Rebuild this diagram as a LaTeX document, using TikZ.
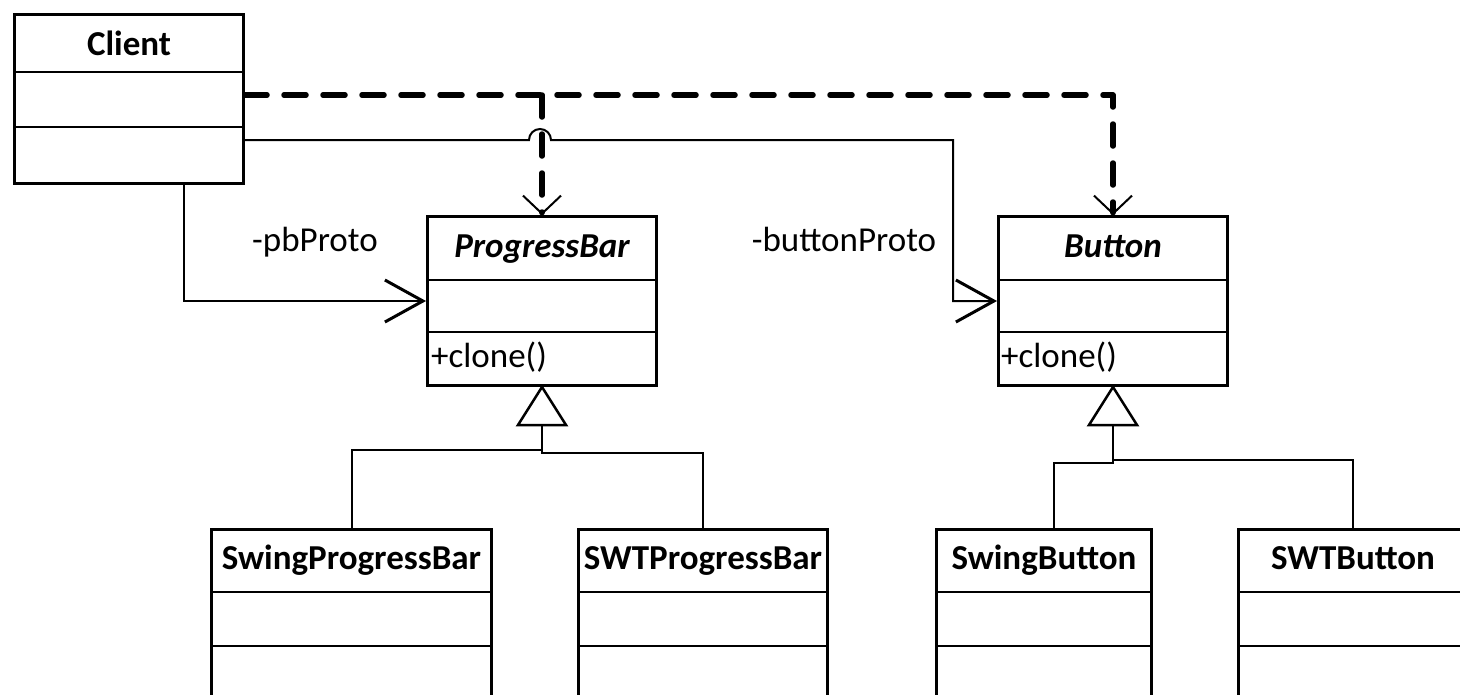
\documentclass[tikz,border=0pt]{standalone}
\usepackage{fontspec}
\setmainfont{Carlito}
\usetikzlibrary{calc,arrows.meta}
\begin{document}
\begin{tikzpicture}[x=1pt,y=-1pt,
  every node/.style={font=\fontsize{35}{42}\selectfont},
  classbox/.style={draw,line width=3pt,inner sep=0pt,anchor=north west},
  divider/.style={line width=2.5pt},
  assoc/.style={line width=2pt,-{Straight Barb[length=38pt,width=42pt,line width=3pt]}},
  depend/.style={line width=5.5pt,line cap=round,line join=round,dash pattern=on 22pt off 17pt},
  deptip/.style={-{Straight Barb[length=18pt,width=38pt,line width=2pt]}},
  inherit/.style={line width=2pt},
  gentri/.style={line width=2.5pt,fill=white,line join=miter},
  title/.style={anchor=base,inner sep=0pt,font=\fontsize{35}{42}\selectfont\bfseries},
  abstitle/.style={anchor=base,inner sep=0pt,font=\fontsize{35}{42}\selectfont\bfseries\itshape},
  member/.style={anchor=base west,inner sep=0pt},
  rolename/.style={anchor=base,inner sep=0pt}]

% canvas
\path[use as bounding box,clip] (0,0) rectangle (1460,694);
\fill[white] (0,0) rectangle (1460,694);

% ---- classes ----
\node[classbox,minimum width=229pt,minimum height=169pt] (Client) at (13,13) {};
\draw[divider] ([yshift=-59pt]Client.north west) -- ([yshift=-59pt]Client.north east);
\draw[divider] ([yshift=-114pt]Client.north west) -- ([yshift=-114pt]Client.north east);
\node[title] (ClientName) at (Client.north |- 0,55) {Client};

\node[classbox,minimum width=229pt,minimum height=169pt] (PB) at (426,215) {};
\draw[divider] ([yshift=-65pt]PB.north west) -- ([yshift=-65pt]PB.north east);
\draw[divider] ([yshift=-117pt]PB.north west) -- ([yshift=-117pt]PB.north east);
\node[abstitle] (PBName) at (PB.north |- 0,257) {ProgressBar};
\node[member] (PBop) at (431,367) {+clone()};

\node[classbox,minimum width=229pt,minimum height=169pt] (Button) at (997,215) {};
\draw[divider] ([yshift=-65pt]Button.north west) -- ([yshift=-65pt]Button.north east);
\draw[divider] ([yshift=-117pt]Button.north west) -- ([yshift=-117pt]Button.north east);
\node[abstitle] (ButtonName) at (Button.north |- 0,257) {Button};
\node[member] (Buttonop) at (1001,367) {+clone()};

\node[classbox,minimum width=280pt,minimum height=200pt] (SwingPB) at (210,528) {};
\draw[divider] ([yshift=-64pt]SwingPB.north west) -- ([yshift=-64pt]SwingPB.north east);
\draw[divider] ([yshift=-118pt]SwingPB.north west) -- ([yshift=-118pt]SwingPB.north east);
\node[title] (SwingPBName) at (SwingPB.north |- 0,569) {SwingProgressBar};

\node[classbox,minimum width=249pt,minimum height=200pt] (SWTPB) at (577,528) {};
\draw[divider] ([yshift=-64pt]SWTPB.north west) -- ([yshift=-64pt]SWTPB.north east);
\draw[divider] ([yshift=-118pt]SWTPB.north west) -- ([yshift=-118pt]SWTPB.north east);
\node[title] (SWTPBName) at (SWTPB.north |- 0,569) {SWTProgressBar};

\node[classbox,minimum width=215pt,minimum height=200pt] (SwingBtn) at (935,528) {};
\draw[divider] ([yshift=-64pt]SwingBtn.north west) -- ([yshift=-64pt]SwingBtn.north east);
\draw[divider] ([yshift=-118pt]SwingBtn.north west) -- ([yshift=-118pt]SwingBtn.north east);
\node[title] (SwingBtnName) at (SwingBtn.north |- 0,569) {SwingButton};

\node[classbox,minimum width=229pt,minimum height=200pt] (SWTBtn) at (1237,528) {};
\draw[divider] ([yshift=-64pt]SWTBtn.north west) -- ([yshift=-64pt]SWTBtn.north east);
\draw[divider] ([yshift=-118pt]SWTBtn.north west) -- ([yshift=-118pt]SWTBtn.north east);
\node[title] (SWTBtnName) at (SWTBtn.north |- 0,569) {SWTButton};

% ---- dependencies ----
\draw[depend,deptip] (Client.east |- 0,95) -| (Button.north);
\draw[depend,deptip] (PB.north |- 0,95) -- (PB.north);

% ---- associations ----
\draw[assoc] (Client.south -| 184,0) |- (PB.west);
\draw[assoc] (Client.east |- 0,140) -- (529,140)
  arc[start angle=180,end angle=0,radius=11pt] -- (953,140) |- (Button.west);
\node[rolename] (pbLabel) at (315,251) {-pbProto};
\node[rolename] (btnLabel) at (844,251) {-buttonProto};

% ---- generalizations ----
\coordinate (pbBase) at ($(PB.south)+(0,38)$);
\coordinate (btnBase) at ($(Button.south)+(0,38)$);
\draw[inherit] (pbBase) -- ++(0,25) -| (SwingPB.north);
\draw[inherit] (pbBase) -- ++(0,28) -| (SWTPB.north);
\draw[inherit] (btnBase) -- ++(0,38) -| ([xshift=10pt]SwingBtn.north);
\draw[inherit] (btnBase) -- ++(0,35) -| (SWTBtn.north);
\draw[gentri] (PB.south) -- ++(-24,38) -- ++(48,0) -- cycle;
\draw[gentri] (Button.south) -- ++(-24,38) -- ++(48,0) -- cycle;
\end{tikzpicture}
\end{document}
